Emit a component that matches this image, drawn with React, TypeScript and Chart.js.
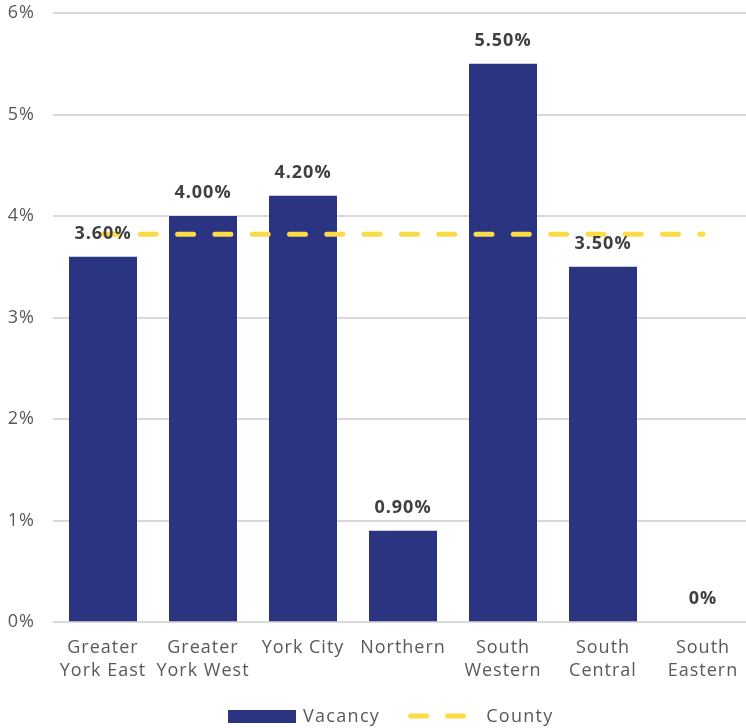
import React, { useEffect, useRef } from 'react';
import { Chart, registerables } from 'chart.js';

Chart.register(...registerables);

const categories: string[][] = [
  ['Greater', 'York East'],
  ['Greater', 'York West'],
  ['York City'],
  ['Northern'],
  ['South', 'Western'],
  ['South', 'Central'],
  ['South', 'Eastern'],
];
const vacancy = [3.6, 4.0, 4.2, 0.9, 5.5, 3.5, 0];
const vacancyLabels = ['3.60%', '4.00%', '4.20%', '0.90%', '5.50%', '3.50%', '0%'];
const county = [3.82, 3.82, 3.82, 3.82, 3.82, 3.82, 3.82];
const seriesNames = ['Vacancy', 'County'];

const NAVY = '#2b3481';
const YELLOW = '#f9dc48';
const GRAY_TEXT = '#595959';
const LABEL_TEXT = '#404040';
const FONT = "'Open Sans', 'Noto Sans', sans-serif";

const spacingPlugin = {
  id: 'spacing',
  beforeUpdate(chart: any) {
    chart.ctx.letterSpacing = '1px';
  },
  beforeDraw(chart: any) {
    chart.ctx.letterSpacing = '1px';
  },
};

const overlayPlugin = {
  id: 'overlay',
  afterDatasetsDraw(chart: any) {
    const ctx = chart.ctx;
    const meta = chart.getDatasetMeta(1);
    ctx.save();
    ctx.letterSpacing = '1px';
    ctx.font = `bold 18px ${FONT}`;
    ctx.fillStyle = LABEL_TEXT;
    ctx.textAlign = 'center';
    ctx.textBaseline = 'middle';
    meta.data.forEach((el: any, i: number) => {
      ctx.fillText(vacancyLabels[i], el.x, el.y - 23);
    });
    ctx.restore();
  },
  afterDraw(chart: any) {
    const ctx = chart.ctx;
    ctx.save();
    ctx.letterSpacing = '1.3px';
    ctx.font = `18px ${FONT}`;
    const w1 = ctx.measureText(seriesNames[0]).width;
    let x = 228;
    const y = chart.height - 12;
    ctx.fillStyle = NAVY;
    ctx.fillRect(x, y - 6, 68, 13);
    x += 68 + 7;
    ctx.fillStyle = GRAY_TEXT;
    ctx.textBaseline = 'middle';
    ctx.textAlign = 'left';
    ctx.fillText(seriesNames[0], x, y + 1);
    x += w1 + 28;
    ctx.strokeStyle = YELLOW;
    ctx.lineWidth = 5;
    ctx.lineCap = 'round';
    ctx.beginPath();
    ctx.moveTo(x + 2.5, y);
    ctx.lineTo(x + 18.5, y);
    ctx.moveTo(x + 39.5, y);
    ctx.lineTo(x + 55.5, y);
    ctx.stroke();
    x += 58 + 20;
    ctx.fillText(seriesNames[1], x, y + 1);
    ctx.restore();
  },
};

export default function App() {
  const ref = useRef<HTMLCanvasElement>(null);
  useEffect(() => {
    document.body.style.margin = '0';
    const chart = new Chart(ref.current!, {
      type: 'bar',
      data: {
        labels: categories,
        datasets: [
          {
            type: 'line',
            label: seriesNames[1],
            data: county,
            borderColor: YELLOW,
            backgroundColor: YELLOW,
            borderWidth: 5,
            borderDash: [16, 21.3],
            borderCapStyle: 'round',
            pointRadius: 0,
            pointHoverRadius: 0,
            order: 0,
          } as any,
          {
            type: 'bar',
            label: seriesNames[0],
            data: vacancy,
            backgroundColor: NAVY,
            categoryPercentage: 1,
            barPercentage: 0.68,
            order: 1,
          },
        ],
      },
      options: {
        animation: false,
        responsive: true,
        maintainAspectRatio: false,
        layout: { padding: { top: 13, right: 0, bottom: 39, left: 0 } },
        plugins: {
          legend: { display: false },
          tooltip: { enabled: false },
        },
        scales: {
          x: {
            grid: { display: false },
            border: { display: false },
            afterFit: (s: any) => {
              s.paddingLeft = 0;
              s.paddingRight = 0;
            },
            ticks: {
              color: GRAY_TEXT,
              font: { family: FONT, size: 18, lineHeight: 1.3 },
              padding: 6,
              maxRotation: 0,
              autoSkip: false,
            },
          },
          y: {
            min: 0,
            max: 6,
            afterFit: (s: any) => {
              s.width = 53;
              s.paddingTop = 0;
              s.paddingBottom = 0;
            },
            grid: { color: '#d9d9d9', lineWidth: 2, drawTicks: false },
            border: { display: false },
            ticks: {
              stepSize: 1,
              color: GRAY_TEXT,
              font: { family: FONT, size: 18 },
              padding: 18,
              callback: (v: any) => `${v}%`,
            },
          },
        },
      },
      plugins: [spacingPlugin, overlayPlugin],
    });
    return () => chart.destroy();
  }, []);
  return (
    <div style={{ width: 746, height: 728, overflow: 'hidden' }}>
      <div style={{ width: 753, height: 728, position: 'relative' }}>
        <canvas ref={ref} />
      </div>
    </div>
  );
}
